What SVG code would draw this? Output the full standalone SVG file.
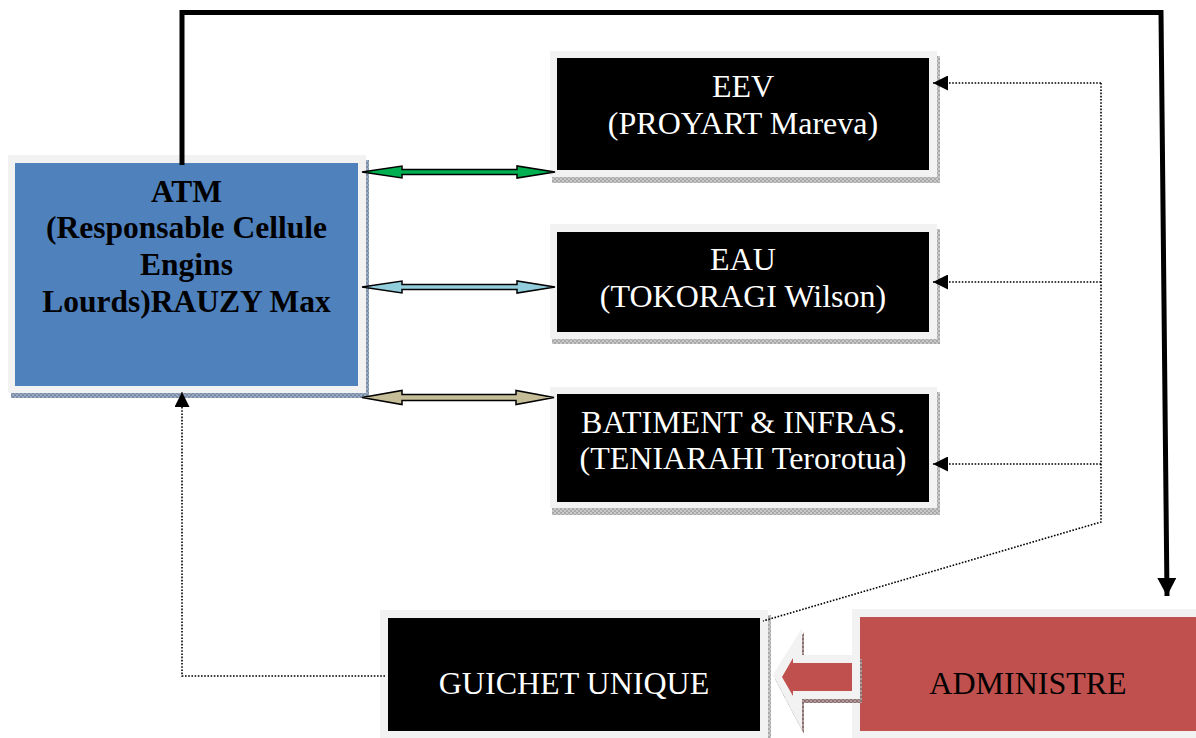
<svg xmlns="http://www.w3.org/2000/svg" width="1196" height="738" viewBox="0 0 1196 738">
<style>
.frame{fill:#f2f2f2}
.dark{fill:#000}
.wt{font-family:"Liberation Serif","Times New Roman",serif;font-size:32px;fill:#fff;text-anchor:middle}
.bt{font-family:"Liberation Serif","Times New Roman",serif;font-size:32px;fill:#000;text-anchor:middle}
.bold{font-weight:bold;font-size:31.5px}
.dot{fill:none;stroke:#000;stroke-width:1.6;stroke-dasharray:1.6 1.6}
.thick{fill:none;stroke:#000;stroke-width:5}
.dbl{stroke:#000;stroke-width:1.5;stroke-linejoin:miter}
</style>
<defs>
<pattern id="hg" width="4" height="4" patternUnits="userSpaceOnUse"><rect width="4" height="4" fill="#c8c8c8"/><rect width="2" height="2" fill="#a9a9a9"/><rect x="2" y="2" width="2" height="2" fill="#a9a9a9"/></pattern>
<pattern id="hb" width="4" height="4" patternUnits="userSpaceOnUse"><rect width="4" height="4" fill="#9aaac0"/><rect width="2" height="2" fill="#7a8ca6"/><rect x="2" y="2" width="2" height="2" fill="#7a8ca6"/></pattern>
<pattern id="hr" width="4" height="4" patternUnits="userSpaceOnUse"><rect width="4" height="4" fill="#b09a9a"/><rect width="2" height="2" fill="#8a7070"/><rect x="2" y="2" width="2" height="2" fill="#8a7070"/></pattern>
<marker id="ah" markerUnits="userSpaceOnUse" markerWidth="15" markerHeight="15" refX="15" refY="7.5" orient="auto"><path d="M0,0 L15,7.5 L0,15 z" fill="#000"/></marker>
<marker id="ahb" markerUnits="userSpaceOnUse" markerWidth="19" markerHeight="19" refX="18" refY="9.5" orient="auto"><path d="M0,0 L18,9.5 L0,19 z" fill="#000"/></marker>
</defs>
<rect width="1196" height="738" fill="#fff"/>

<g id="atm">
<rect x="11" y="160" width="358" height="238" fill="url(#hb)"/>
<rect class="frame" x="8" y="155" width="358" height="238"/>
<rect x="15" y="163" width="343" height="223" fill="#4f81bd"/>
<text class="bt bold" x="186.5" y="202">ATM</text>
<text class="bt bold" x="186.5" y="238">(Responsable Cellule</text>
<text class="bt bold" x="186.5" y="275">Engins</text>
<text class="bt bold" x="186.5" y="312">Lourds)RAUZY Max</text>
</g>

<g id="eev">
<rect x="552" y="56" width="388" height="127" fill="url(#hg)"/>
<rect class="frame" x="550" y="51" width="387" height="126"/>
<rect class="dark" x="557" y="58" width="372" height="112"/>
<text class="wt" x="743" y="97">EEV</text>
<text class="wt" x="743" y="134">(PROYART Mareva)</text>
</g>

<g id="eau">
<rect x="552" y="229" width="388" height="115" fill="url(#hg)"/>
<rect class="frame" x="550" y="224" width="387" height="115"/>
<rect class="dark" x="557" y="232" width="372" height="100"/>
<text class="wt" x="743" y="270">EAU</text>
<text class="wt" x="743" y="307">(TOKORAGI Wilson)</text>
</g>

<g id="batiment">
<rect x="552" y="392" width="388" height="123" fill="url(#hg)"/>
<rect class="frame" x="550" y="387" width="387" height="121"/>
<rect class="dark" x="557" y="394" width="372" height="108"/>
<text class="wt" x="743" y="433">BATIMENT &amp; INFRAS.</text>
<text class="wt" x="743" y="469">(TENIARAHI Terorotua)</text>
</g>

<g id="guichet">
<rect x="383" y="615" width="388" height="130" fill="url(#hg)"/>
<rect class="frame" x="380" y="610" width="388" height="128"/>
<rect class="dark" x="388" y="618" width="372" height="113"/>
<text class="wt" x="574" y="694">GUICHET UNIQUE</text>
</g>

<g id="administre">
<rect class="frame" x="852" y="609" width="350" height="135"/>
<rect x="860" y="617" width="340" height="114" fill="#c0504d"/>
<text class="bt" x="1028" y="694">ADMINISTRE</text>
</g>

<g id="connectors">
<polygon points="775,679 804,632 804,659 862,659 862,703 804,703 804,734" fill="url(#hr)"/>
<polygon points="773,675 802,628 802,655 860,655 860,699 802,699 802,730" fill="#f2f2f2"/>
<polygon points="782,677 793,658 793,663 852,663 852,691 793,691 793,696" fill="#c0504d"/>

<path class="thick" d="M182,165 V12.5 H1161 L1167,596" marker-end="url(#ahb)"/>

<path class="dot" d="M385,676 H182 V392" marker-end="url(#ah)"/>
<path class="dot" d="M1101,83 V522 L763,621"/>
<path class="dot" d="M1101,83 H933" marker-end="url(#ah)"/>
<path class="dot" d="M1101,282 H933" marker-end="url(#ah)"/>
<path class="dot" d="M1101,464 H933" marker-end="url(#ah)"/>

<polygon class="dbl" fill="#00b050" points="362,172 402,166 402,169.5 517,169.5 517,166 555,172 517,178 517,174.5 402,174.5 402,178"/>
<polygon class="dbl" fill="#92cddc" points="362,287 402,281 402,284.5 517,284.5 517,281 555,287 517,293 517,289.5 402,289.5 402,293"/>
<polygon class="dbl" fill="#c4bd97" points="362,397.5 402,390.5 402,394.5 516,394.5 516,390.5 554,397.5 516,404.5 516,400.5 402,400.5 402,404.5"/>
</g>
</svg>
